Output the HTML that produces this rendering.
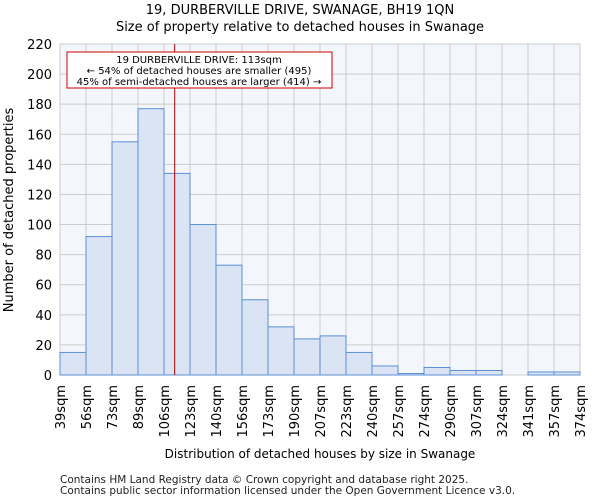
<!DOCTYPE html>
<html><head><meta charset="utf-8"><style>body{margin:0;background:#fff}svg{display:block;font-family:"DejaVu Sans","Liberation Sans",sans-serif}</style></head>
<body>
<svg id="c" width="600" height="500">
<text x="300" y="14" text-anchor="middle" font-size="13">19, DURBERVILLE DRIVE, SWANAGE, BH19 1QN</text>
<text x="300" y="31" text-anchor="middle" font-size="13">Size of property relative to detached houses in Swanage</text>
<rect x="60" y="44" width="520" height="331" fill="#f3f6fd"/>
<g id="grid"></g><g id="bars"></g><g id="ticks"></g>
<text transform="translate(13,210) rotate(-90)" text-anchor="middle" font-size="13">Number of detached properties</text>
<text x="320" y="458" text-anchor="middle" font-size="12">Distribution of detached houses by size in Swanage</text>
<text x="60" y="483" font-size="10.5" fill="#222">Contains HM Land Registry data © Crown copyright and database right 2025.</text>
<text x="60" y="494" font-size="10.5" fill="#222">Contains public sector information licensed under the Open Government Licence v3.0.</text>
</svg>
<script>
const categories=["39sqm","56sqm","73sqm","89sqm","106sqm","123sqm","140sqm","156sqm","173sqm","190sqm","207sqm","223sqm","240sqm","257sqm","274sqm","290sqm","307sqm","324sqm","341sqm","357sqm","374sqm"];
const counts=[15,92,155,177,134,100,73,50,32,24,26,15,6,1,5,3,3,0,2,2];
const yTicks=[0,20,40,60,80,100,120,140,160,180,200,220];
const binStarts=[39,56,73,89,106,123,140,156,173,190,207,223,240,257,274,290,307,324,341,357,374];
const propertySize=113;
const X0=60,X1=580,Y0=375,Y1=44,YMAX=220;
const ns="http://www.w3.org/2000/svg";
const bw=(X1-X0)/counts.length;
const y=v=>Y0-(v/YMAX)*(Y0-Y1);
const xi=i=>X0+i*bw;
function xv(v){for(let i=0;i<binStarts.length-1;i++){if(v>=binStarts[i]&&v<binStarts[i+1])return xi(i)+(v-binStarts[i])/(binStarts[i+1]-binStarts[i])*bw;}return X1;}
function mk(t,a,p){const e=document.createElementNS(ns,t);for(const k in a)e.setAttribute(k,a[k]);p.appendChild(e);return e;}
const G=document.getElementById('grid'),B=document.getElementById('bars'),T=document.getElementById('ticks'),S=document.getElementById('c');
yTicks.forEach(v=>{const l=mk('line',{x1:X0,x2:X1,y1:y(v),y2:y(v),stroke:'#ccc'},G);


const t=mk('text',{x:X0-8,y:y(v)+5,'text-anchor':'end','font-size':13},T);t.textContent=v;

});
categories.forEach((c,i)=>{const l=mk('line',{x1:xi(i),x2:xi(i),y1:Y1,y2:Y0,stroke:'#ccc'},G);


const t=mk('text',{transform:`translate(${xi(i)+5},385) rotate(-90)`,'text-anchor':'end','font-size':13},T);t.textContent=c;

});
counts.forEach((v,i)=>{const r=mk('rect',{x:xi(i),y:y(v),width:bw,height:Y0-y(v),fill:'#dae4f4',stroke:'#5b8fd6','stroke-width':1},B);

});
const px=xv(propertySize);
const ml=mk('line',{x1:px,x2:px,y1:Y1,y2:Y0,stroke:'#a00','stroke-width':1},S);


const box=mk('g',{},S);


mk('rect',{x:67,y:52,width:265,height:36,fill:'#fff',stroke:'#c00'},box);
[["19 DURBERVILLE DRIVE: 113sqm",63],["← 54% of detached houses are smaller (495)",74],["45% of semi-detached houses are larger (414) →",85]].forEach(([s,yy])=>{const t=mk('text',{x:199,y:yy,'text-anchor':'middle','font-size':10},box);t.textContent=s;});
</script>
</body></html>
